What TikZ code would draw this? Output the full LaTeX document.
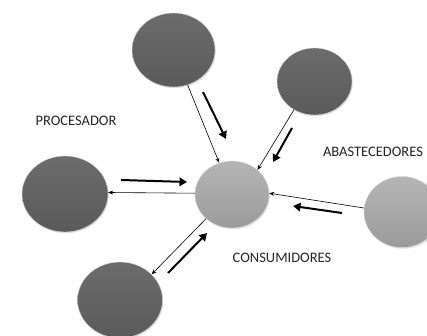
\documentclass[tikz,border=0pt]{standalone}
\usepackage{fontspec}
\setmainfont{Carlito}
\usetikzlibrary{shapes.geometric,arrows.meta,shadows}
\definecolor{darkball}{HTML}{5F5F5F}
\definecolor{lightball}{HTML}{A8A8A8}
\tikzset{
  ball/.style={ellipse, inner sep=0pt, draw=white!85!black, line width=0.4pt,
    drop shadow={shadow xshift=0.8pt, shadow yshift=-1.2pt, opacity=0.25}},
  darkb/.style={ball, top color=darkball!92!white, bottom color=darkball!95!black},
  lightb/.style={ball, top color=lightball!85!white, bottom color=lightball!92!black},
  thin link/.style={draw=black, line width=0.6pt, -{Stealth[length=5pt,width=4pt]}},
  flow/.style={draw=black, line width=2pt, -{Triangle[length=7.5pt,width=8.5pt]}},
  lbl/.style={font=\fontsize{14.5}{16}\selectfont, text=black!85}
}
\begin{document}
\begin{tikzpicture}[x=1pt,y=-1pt]
\useasboundingbox[fill=white] (0,0) rectangle (427,336);
% circles
\node[darkb, minimum width=83pt, minimum height=74pt] (top) at (173.5,50) {};
\node[darkb, minimum width=75pt, minimum height=67pt] (tr) at (314.5,81.5) {};
\node[darkb, minimum width=86pt, minimum height=76pt] (left) at (65,194) {};
\node[lightb, minimum width=74pt, minimum height=67pt] (c) at (232,194.5) {};
\node[lightb, minimum width=76pt, minimum height=71pt] (right) at (402,212) {};
\node[darkb, minimum width=85pt, minimum height=76pt] (bot) at (120,300) {};
% labels
\node[lbl] (proc) at (76,121) {PROCESADOR};
\node[lbl] (abas) at (373,152) {ABASTECEDORES};
\node[lbl] (cons) at (282,258) {CONSUMIDORES};
% thin connectors
\draw[thin link] (top.292) -- (c.112);
\draw[thin link] (tr.234) -- (c.44);
\draw[thin link] (c.178) -- (left.2);
\draw[thin link] (right.174) -- (c.2);
\draw[thin link] (c.223) -- (bot.39);
% thick flow arrows
\coordinate (a1) at (203,92);  \coordinate (a2) at (226,139);
\coordinate (b1) at (292,128); \coordinate (b2) at (273,162);
\coordinate (c1) at (121,180); \coordinate (c2) at (187,182);
\coordinate (d1) at (342,213); \coordinate (d2) at (293,206);
\coordinate (e1) at (168,273); \coordinate (e2) at (207,233);
\draw[flow] (a1) -- (a2);
\draw[flow] (b1) -- (b2);
\draw[flow] (c1) -- (c2);
\draw[flow] (d1) -- (d2);
\draw[flow] (e1) -- (e2);
\end{tikzpicture}
\end{document}
